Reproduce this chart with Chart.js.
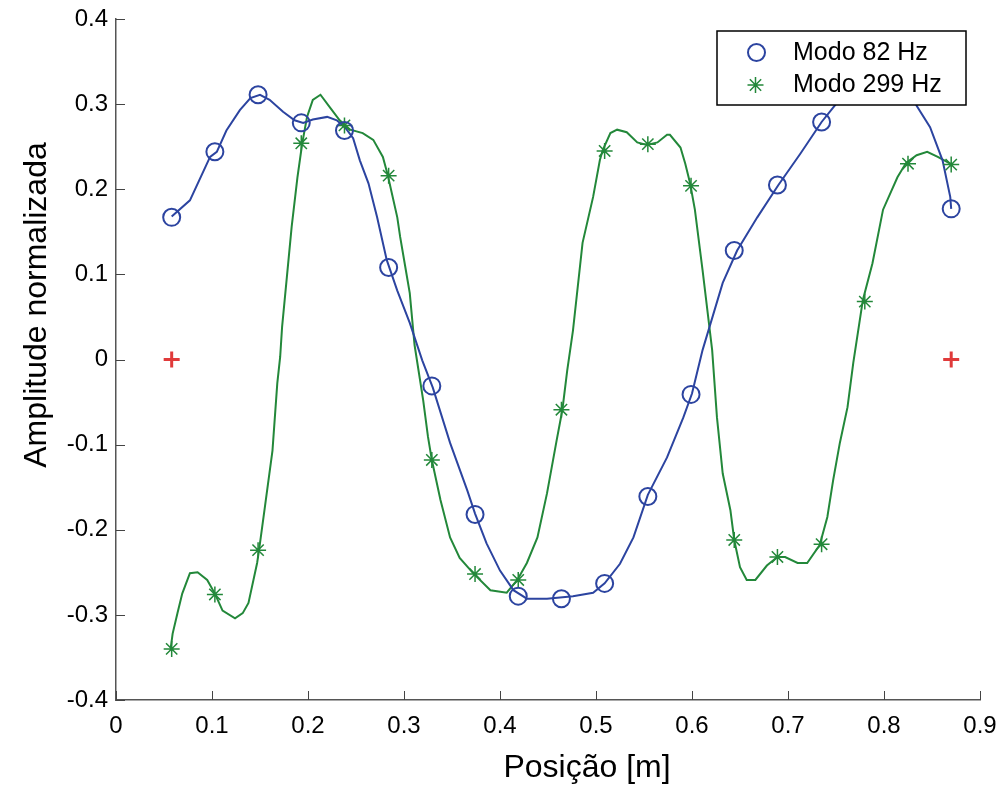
<!DOCTYPE html>
<html>
<head>
<meta charset="utf-8">
<script src="https://cdn.jsdelivr.net/npm/chart.js@4.4.1/dist/chart.umd.min.js"></script>
<style>
  html, body { margin: 0; padding: 0; background: #ffffff; }
  canvas { display: block; }
</style>
</head>
<body>
<canvas id="c" width="1002" height="789"></canvas>
<script>
// ---- data ----
const markerX = [0.058, 0.103, 0.148, 0.193, 0.238, 0.284, 0.329, 0.374, 0.419, 0.464,
                 0.509, 0.554, 0.599, 0.644, 0.689, 0.735, 0.780, 0.825, 0.870];
const modo82 = [0.167, 0.244, 0.311, 0.278, 0.269, 0.108, -0.031, -0.182, -0.278, -0.281,
                -0.263, -0.161, -0.041, 0.128, 0.205, 0.279, 0.334, 0.322, 0.177];
const modo299 = [-0.340, -0.276, -0.224, 0.254, 0.275, 0.216, -0.118, -0.252, -0.259, -0.059,
                 0.245, 0.253, 0.204, -0.212, -0.232, -0.217, 0.068, 0.230, 0.229];

const curve82X = [0.058, 0.077, 0.098, 0.105, 0.115, 0.129, 0.140, 0.150, 0.160, 0.174,
                  0.186, 0.195, 0.205, 0.220, 0.230, 0.239, 0.247, 0.254, 0.263, 0.272,
                  0.282, 0.293, 0.306, 0.319, 0.330, 0.348, 0.366, 0.374, 0.386, 0.400,
                  0.414, 0.428, 0.449, 0.476, 0.497, 0.509, 0.525, 0.539, 0.554, 0.574,
                  0.591, 0.600, 0.611, 0.632, 0.647, 0.668, 0.690, 0.713, 0.735, 0.747,
                  0.765, 0.780, 0.796, 0.811, 0.825, 0.834, 0.848, 0.861, 0.869, 0.870];
const curve82Y = [0.168, 0.187, 0.238, 0.244, 0.269, 0.293, 0.307, 0.311, 0.305, 0.291,
                  0.281, 0.278, 0.282, 0.285, 0.281, 0.272, 0.260, 0.234, 0.207, 0.167,
                  0.117, 0.081, 0.043, -0.001, -0.033, -0.098, -0.154, -0.181, -0.216, -0.248,
                  -0.271, -0.281, -0.281, -0.278, -0.274, -0.263, -0.240, -0.209, -0.159, -0.115,
                  -0.068, -0.040, 0.011, 0.090, 0.128, 0.167, 0.205, 0.242, 0.279, 0.296,
                  0.321, 0.334, 0.338, 0.334, 0.322, 0.298, 0.273, 0.234, 0.191, 0.177];

const curve299X = [0.057, 0.059, 0.064, 0.069, 0.077, 0.085, 0.095, 0.103, 0.111, 0.124,
                   0.132, 0.138, 0.147, 0.149, 0.155, 0.163, 0.168, 0.171, 0.173, 0.178,
                   0.183, 0.189, 0.194, 0.199, 0.205, 0.213, 0.223, 0.233, 0.244, 0.257,
                   0.268, 0.278, 0.283, 0.293, 0.296, 0.301, 0.306, 0.311, 0.320, 0.325,
                   0.329, 0.338, 0.348, 0.358, 0.372, 0.390, 0.407, 0.418, 0.428, 0.439,
                   0.449, 0.459, 0.465, 0.470, 0.476, 0.486, 0.497, 0.504, 0.507, 0.515,
                   0.522, 0.532, 0.543, 0.553, 0.564, 0.574, 0.577, 0.588, 0.593, 0.598,
                   0.603, 0.611, 0.621, 0.626, 0.632, 0.640, 0.644, 0.650, 0.657, 0.666,
                   0.678, 0.689, 0.697, 0.710, 0.720, 0.733, 0.741, 0.747, 0.754, 0.762,
                   0.768, 0.778, 0.788, 0.799, 0.814, 0.823, 0.834, 0.845, 0.856, 0.869];
const curve299Y = [-0.339, -0.322, -0.298, -0.275, -0.251, -0.250, -0.259, -0.275, -0.295, -0.304,
                   -0.298, -0.286, -0.239, -0.224, -0.174, -0.107, -0.028, 0.003, 0.038, 0.097,
                   0.156, 0.214, 0.254, 0.285, 0.305, 0.311, 0.296, 0.281, 0.270, 0.266,
                   0.258, 0.238, 0.217, 0.167, 0.144, 0.111, 0.078, 0.017, -0.048, -0.091,
                   -0.118, -0.165, -0.209, -0.233, -0.251, -0.271, -0.274, -0.259, -0.239, -0.209,
                   -0.157, -0.095, -0.059, -0.013, 0.034, 0.137, 0.191, 0.234, 0.246, 0.266,
                   0.270, 0.267, 0.255, 0.252, 0.255, 0.264, 0.264, 0.249, 0.230, 0.207,
                   0.176, 0.105, 0.011, -0.068, -0.134, -0.177, -0.212, -0.244, -0.259, -0.259,
                   -0.242, -0.232, -0.232, -0.239, -0.239, -0.218, -0.185, -0.142, -0.098, -0.056,
                   -0.004, 0.070, 0.113, 0.176, 0.214, 0.231, 0.240, 0.244, 0.238, 0.230];

const supportX = [0.058, 0.870];
const supportY = [0, 0];

const xTickValues = [0, 0.1, 0.2, 0.3, 0.4, 0.5, 0.6, 0.7, 0.8, 0.9];
const xTickLabels = ['0', '0.1', '0.2', '0.3', '0.4', '0.5', '0.6', '0.7', '0.8', '0.9'];
const yTickValues = [-0.4, -0.3, -0.2, -0.1, 0, 0.1, 0.2, 0.3, 0.4];
const yTickLabels = ['-0.4', '-0.3', '-0.2', '-0.1', '0', '0.1', '0.2', '0.3', '0.4'];

const seriesLabels = ['Modo 82 Hz', 'Modo 299 Hz'];
const xTitle = 'Posição [m]';
const yTitle = 'Amplitude normalizada';

// ---- styles ----
const BLUE = '#2c44a0';
const GREEN = '#23883a';
const RED = '#e03a3a';
const FONT = '"Liberation Sans", Arial, Helvetica, sans-serif';

const pts = (xs, ys) => xs.map((x, i) => ({ x: x, y: ys[i] }));

function drawStar(ctx, x, y, r, color, w) {
  ctx.save();
  ctx.strokeStyle = color; ctx.lineWidth = w;
  ctx.beginPath();
  ctx.moveTo(x - r, y); ctx.lineTo(x + r, y);
  ctx.moveTo(x, y - r); ctx.lineTo(x, y + r);
  const d = r * 0.7071;
  ctx.moveTo(x - d, y - d); ctx.lineTo(x + d, y + d);
  ctx.moveTo(x - d, y + d); ctx.lineTo(x + d, y - d);
  ctx.stroke();
  ctx.restore();
}

const decor = {
  id: 'decor',
  afterDatasetsDraw(chart) {
    const ctx = chart.ctx;
    const xs = chart.scales.x, ys = chart.scales.y;
    const ca = chart.chartArea;
    // inward tick marks
    ctx.save();
    ctx.strokeStyle = '#444';
    ctx.lineWidth = 1;
    xTickValues.forEach(v => {
      const px = Math.round(xs.getPixelForValue(v)) + 0.5;
      ctx.beginPath(); ctx.moveTo(px, ca.bottom); ctx.lineTo(px, ca.bottom - 9); ctx.stroke();
    });
    yTickValues.forEach(v => {
      const py = Math.round(ys.getPixelForValue(v)) + 0.5;
      ctx.beginPath(); ctx.moveTo(ca.left, py); ctx.lineTo(ca.left + 9, py); ctx.stroke();
    });
    ctx.restore();

    // legend box
    const bx = 717, by = 31, bw = 249, bh = 74;
    ctx.save();
    ctx.fillStyle = '#ffffff';
    ctx.fillRect(bx, by, bw, bh);
    ctx.strokeStyle = '#000000';
    ctx.lineWidth = 1.5;
    ctx.strokeRect(bx, by, bw, bh);
    ctx.strokeStyle = BLUE; ctx.lineWidth = 2;
    ctx.beginPath(); ctx.arc(756.5, 52.5, 8.5, 0, Math.PI * 2); ctx.stroke();
    drawStar(ctx, 755.5, 85, 8, GREEN, 1.5);
    ctx.fillStyle = '#000000';
    ctx.font = '25px ' + FONT;
    ctx.textAlign = 'left';
    ctx.textBaseline = 'middle';
    ctx.fillText(seriesLabels[0], 793, 53);
    ctx.fillText(seriesLabels[1], 793, 85);
    ctx.restore();

    // axis titles
    ctx.save();
    ctx.fillStyle = '#000000';
    ctx.font = '32px ' + FONT;
    ctx.textAlign = 'center';
    ctx.textBaseline = 'middle';
    ctx.fillText(xTitle, 587, 768);
    ctx.translate(37, 305);
    ctx.rotate(-Math.PI / 2);
    ctx.fillText(yTitle, 0, 0);
    ctx.restore();
  }
};

const noPad = s => { s.paddingLeft = 0; s.paddingRight = 0; s.paddingTop = 0; s.paddingBottom = 0; };

new Chart(document.getElementById('c'), {
  type: 'scatter',
  data: {
    datasets: [
      {
        label: seriesLabels[0],
        data: pts(markerX, modo82),
        showLine: false,
        pointStyle: 'circle',
        pointRadius: 8.5,
        pointBorderWidth: 2,
        pointBorderColor: BLUE,
        pointBackgroundColor: 'rgba(0,0,0,0)'
      },
      {
        label: seriesLabels[1],
        data: pts(markerX, modo299),
        showLine: false,
        pointStyle: 'star',
        pointRadius: 8,
        pointBorderWidth: 1.5,
        pointBorderColor: GREEN,
        pointBackgroundColor: GREEN
      },
      {
        label: 'apoios',
        data: pts(supportX, supportY),
        showLine: false,
        pointStyle: 'cross',
        pointRadius: 8,
        pointBorderWidth: 3,
        pointBorderColor: RED,
        pointBackgroundColor: RED
      },
      {
        label: 'curva 82',
        data: pts(curve82X, curve82Y),
        showLine: true,
        borderColor: BLUE,
        borderWidth: 2,
        pointRadius: 0,
        tension: 0
      },
      {
        label: 'curva 299',
        data: pts(curve299X, curve299Y),
        showLine: true,
        borderColor: GREEN,
        borderWidth: 2,
        pointRadius: 0,
        tension: 0
      }
    ]
  },
  options: {
    responsive: false,
    animation: false,
    devicePixelRatio: 1,
    layout: { padding: { left: 0, right: 22, top: 19, bottom: 0 } },
    plugins: { legend: { display: false }, tooltip: { enabled: false } },
    scales: {
      x: {
        type: 'linear', min: 0, max: 0.9,
        afterBuildTicks: s => { s.ticks = xTickValues.map(v => ({ value: v })); },
        afterFit: s => { s.height = 89; noPad(s); },
        grid: { display: false, drawTicks: false },
        border: { display: true, color: '#555', width: 1.5 },
        ticks: {
          padding: 12,
          color: '#000',
          font: { family: FONT, size: 24 },
          maxRotation: 0,
          autoSkip: false,
          callback: (v) => xTickLabels[xTickValues.findIndex(t => Math.abs(t - v) < 1e-9)]
        }
      },
      y: {
        type: 'linear', min: -0.4, max: 0.4,
        afterBuildTicks: s => { s.ticks = yTickValues.map(v => ({ value: v })); },
        afterFit: s => { s.width = 116; noPad(s); },
        grid: { display: false, drawTicks: false },
        border: { display: true, color: '#555', width: 1.5 },
        ticks: {
          padding: 8,
          color: '#000',
          font: { family: FONT, size: 24 },
          autoSkip: false,
          callback: (v) => yTickLabels[yTickValues.findIndex(t => Math.abs(t - v) < 1e-9)]
        }
      }
    }
  },
  plugins: [decor]
});
</script>
</body>
</html>
